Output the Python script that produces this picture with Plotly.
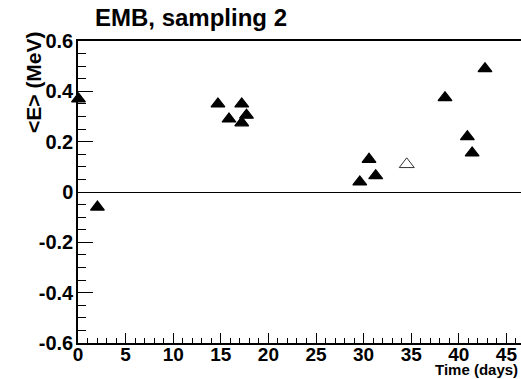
import plotly.graph_objects as go

# Data
time_days = [0.05, 2.04, 14.7, 15.86, 17.2, 17.2, 17.7, 29.6, 30.57, 31.27, 38.55, 40.9, 41.4, 42.75]
mean_e = [0.37, -0.06, 0.35, 0.29, 0.35, 0.275, 0.305, 0.04, 0.13, 0.065, 0.375, 0.22, 0.155, 0.49]
open_time = [34.53]
open_e = [0.11]

x_ticks = [0, 5, 10, 15, 20, 25, 30, 35, 40, 45]
x_ticktext = ["0", "5", "10", "15", "20", "25", "30", "35", "40", "45"]
y_ticks = [-0.6, -0.4, -0.2, 0, 0.2, 0.4, 0.6]
y_ticktext = ["-0.6", "-0.4", "-0.2", "0", "0.2", "0.4", "0.6"]

W, H = 521, 379
L, R, T, B = 78, 0, 41, 36
pw, ph = W - L - R, H - T - B

FONT = "Liberation Sans, Arial, Helvetica, sans-serif"

fig = go.Figure()
fig.add_trace(go.Scatter(
    x=time_days, y=mean_e, mode="markers",
    marker=dict(symbol="triangle-up", size=12, color="black",
                line=dict(color="black", width=1.2)),
    cliponaxis=False, showlegend=False, hoverinfo="skip"))
fig.add_trace(go.Scatter(
    x=open_time, y=open_e, mode="markers",
    marker=dict(symbol="triangle-up-open", size=13, color="#333333",
                line=dict(color="#333333", width=1)),
    cliponaxis=False, showlegend=False, hoverinfo="skip"))

fig.update_layout(
    width=W, height=H,
    margin=dict(l=L, r=R, t=T, b=B, pad=0, autoexpand=False),
    paper_bgcolor="white", plot_bgcolor="white",
    font=dict(family=FONT, color="black"),
    title=dict(text="EMB, sampling 2", x=95 / W, xanchor="left",
               xref="container", yref="container", y=1 - 18 / H, yanchor="middle",
               font=dict(size=24, family=FONT, weight="bold", color="black")),
    showlegend=False,
)

fig.update_xaxes(
    automargin=False,
    range=[0, pw / 9.52], tickvals=x_ticks, ticktext=x_ticktext,
    ticks="inside", ticklen=10, tickwidth=1, tickcolor="black",
    minor=dict(ticks="inside", ticklen=5, dtick=1, tick0=0, tickcolor="black", tickwidth=1),
    showline=True, linecolor="black", linewidth=1.5, mirror=True,
    showgrid=False, zeroline=False, ticklabelstandoff=-7,
    tickfont=dict(size=19, family=FONT, weight="bold", color="black"),
)
fig.update_yaxes(
    automargin=False,
    range=[-0.6, 0.6], tickvals=y_ticks, ticktext=y_ticktext,
    ticks="inside", ticklen=15, tickwidth=1, tickcolor="black",
    minor=dict(ticks="inside", ticklen=8, dtick=0.05, tick0=0, tickcolor="black", tickwidth=1),
    showline=True, linecolor="black", linewidth=1.5, mirror=False,
    showgrid=False, zeroline=True, zerolinecolor="black", zerolinewidth=1,
    ticklabelstandoff=-1,
    tickfont=dict(size=20, family=FONT, weight="bold", color="black"),
)

fig.add_annotation(
    text="<E> (MeV)", textangle=-90, xref="paper", yref="paper",
    x=(33 - L) / pw, y=(H - B - 82) / ph, xanchor="center", yanchor="middle",
    showarrow=False, font=dict(size=21, family=FONT, weight="bold", color="black"))
fig.add_annotation(
    text="Time (days)", xref="paper", yref="paper",
    x=(520 - L) / pw, y=(H - B - 370) / ph, xanchor="right", yanchor="middle",
    showarrow=False, font=dict(size=15, family=FONT, weight="bold", color="black"))

fig.write_html("out.html", config={"displayModeBar": False},
               post_script="document.body.style.margin='0';document.body.style.overflow='hidden';")
